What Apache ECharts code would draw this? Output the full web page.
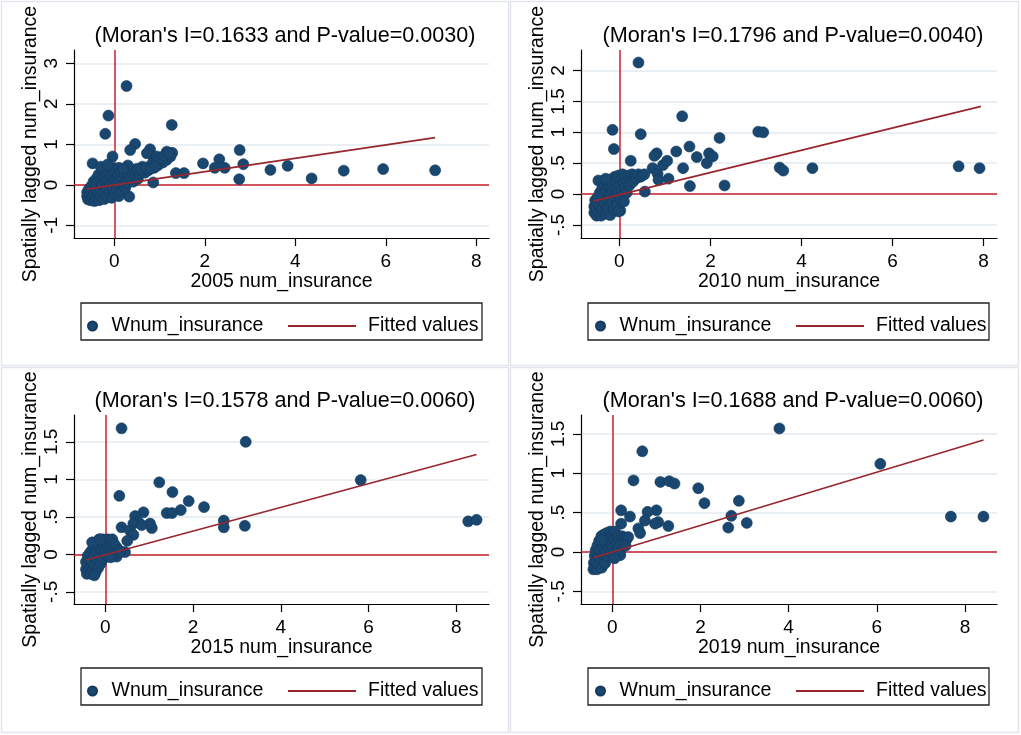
<!DOCTYPE html>
<html>
<head>
<meta charset="utf-8">
<title>Moran scatter plots of num_insurance</title>
<script src="https://cdn.jsdelivr.net/npm/echarts@6/dist/echarts.min.js"></script>
<style>
  html, body { margin: 0; padding: 0; background: #fff; }
  #main { width: 1021px; height: 735px; }
</style>
</head>
<body>
<div id="main"></div>
<script>
const years = ['2005', '2010', '2015', '2019'];
const moranI = ['0.1633', '0.1796', '0.1578', '0.1688'];
const pValues = ['0.0030', '0.0040', '0.0060', '0.0060'];

// [num_insurance, spatially lagged num_insurance]
const pts2005 = [
  [0.27, 2.44], [-0.13, 1.71], [-0.2, 1.26], [1.27, 1.48], [0.46, 1.01], [0.35, 0.86], [0.79, 0.88],
  [0.86, 0.70], [-0.04, 0.70], [-0.48, 0.53], [1.28, 0.79], [1.24, 0.70], [1.16, 0.62], [1.07, 0.55],
  [0.96, 0.48], [1.36, 0.29], [1.54, 0.29], [1.96, 0.53], [2.32, 0.63], [2.22, 0.42], [2.44, 0.42],
  [2.77, 0.86], [2.85, 0.51], [2.76, 0.14], [3.45, 0.37], [3.83, 0.47], [4.36, 0.16], [5.07, 0.35],
  [5.94, 0.39], [7.09, 0.36], [0.86, 0.06], [0.33, -0.29], [0.72, 0.78], [0.94, 0.70], [1.16, 0.82],
  [-0.6, -0.28], [-0.6, -0.18], [-0.58, -0.36], [-0.56, -0.1], [-0.54, -0.25], [-0.52, -0.38],
  [-0.5, -0.15], [-0.5, -0.02], [-0.48, -0.3], [-0.46, 0.08], [-0.45, -0.2], [-0.44, -0.4],
  [-0.42, -0.08], [-0.4, 0.15], [-0.4, -0.3], [-0.38, 0.02], [-0.36, -0.18], [-0.35, 0.25],
  [-0.34, -0.38], [-0.32, 0.1], [-0.3, -0.1], [-0.3, -0.28], [-0.28, 0.32], [-0.27, 0.0],
  [-0.25, 0.18], [-0.24, -0.2], [-0.22, -0.35], [-0.2, 0.08], [-0.2, 0.4], [-0.18, -0.08],
  [-0.17, 0.26], [-0.15, -0.28], [-0.14, 0.12], [-0.12, 0.35], [-0.1, -0.15], [-0.1, 0.02],
  [-0.08, 0.2], [-0.06, -0.32], [-0.05, 0.42], [-0.04, 0.08], [-0.02, -0.05], [0.0, 0.28],
  [0.0, -0.22], [0.02, 0.14], [0.04, 0.36], [0.05, -0.1], [0.07, 0.02], [0.08, 0.22], [0.1, 0.42],
  [0.1, -0.28], [0.12, 0.1], [0.14, 0.3], [0.15, -0.15], [0.17, 0.18], [0.2, 0.0], [0.2, 0.38],
  [0.22, 0.25], [0.24, -0.08], [0.26, 0.12], [0.28, 0.32], [0.3, 0.05], [0.32, 0.22], [0.34, 0.4],
  [0.36, 0.15], [0.4, 0.3], [0.42, 0.08], [0.45, 0.22], [0.48, 0.35], [0.52, 0.15], [0.56, 0.28],
  [0.62, 0.45], [0.68, 0.3], [0.75, 0.36], [0.82, 0.5], [0.88, 0.42], [0.95, 0.6], [1.02, 0.66],
  [1.1, 0.72], [1.2, 0.78], [-0.3, 0.45], [-0.15, 0.5], [0.5, 0.4], [0.6, 0.38], [0.7, 0.42],
  [0.8, 0.4], [0.9, 0.45], [0.3, 0.48], [0.2, 0.4]
];
const pts2010 = [
  [0.42, 2.13], [1.38, 1.26], [-0.15, 1.04], [0.47, 0.97], [-0.12, 0.73], [3.05, 1.01], [3.16, 1.0],
  [2.2, 0.91], [1.54, 0.77], [1.25, 0.69], [0.82, 0.66], [0.77, 0.62], [1.7, 0.6], [1.97, 0.66],
  [2.05, 0.61], [1.92, 0.5], [0.25, 0.54], [0.73, 0.42], [0.84, 0.33], [0.86, 0.23], [0.96, 0.47],
  [1.05, 0.54], [1.08, 0.25], [1.4, 0.42], [1.55, 0.13], [2.31, 0.14], [3.52, 0.43], [3.6, 0.38],
  [4.24, 0.42], [7.45, 0.45], [7.91, 0.42], [0.56, 0.04], [-0.46, 0.22], [0.02, -0.27],
  [-0.55, -0.3], [-0.55, -0.2], [-0.53, -0.1], [-0.5, -0.35], [-0.5, -0.25], [-0.48, -0.15],
  [-0.47, -0.05], [-0.45, -0.3], [-0.43, 0.02], [-0.42, -0.2], [-0.4, -0.35], [-0.4, -0.1],
  [-0.38, 0.08], [-0.36, -0.25], [-0.35, -0.02], [-0.33, 0.14], [-0.32, -0.15], [-0.3, -0.32],
  [-0.28, 0.05], [-0.27, 0.2], [-0.26, -0.08], [-0.24, -0.22], [-0.22, 0.12], [-0.2, 0.0],
  [-0.2, -0.34], [-0.18, 0.24], [-0.17, -0.14], [-0.15, 0.06], [-0.14, 0.16], [-0.12, -0.24],
  [-0.1, 0.28], [-0.1, -0.04], [-0.08, 0.1], [-0.06, 0.2], [-0.05, -0.16], [-0.03, 0.02],
  [-0.02, 0.3], [0.0, 0.14], [0.02, -0.08], [0.04, 0.24], [0.05, 0.06], [0.07, 0.32], [0.08, -0.02],
  [0.1, 0.18], [0.12, 0.1], [0.14, 0.28], [0.16, 0.02], [0.18, 0.22], [0.2, 0.3], [0.22, 0.14],
  [0.25, 0.26], [0.28, 0.32], [0.3, 0.2], [0.34, 0.3], [0.38, 0.26], [0.42, 0.32], [0.46, 0.28],
  [0.5, 0.3], [0.55, 0.32], [0.1, -0.12], [-0.3, 0.25], [-0.02, -0.28]
];
const pts2015 = [
  [0.37, 1.68], [3.2, 1.5], [5.82, 0.99], [1.23, 0.96], [1.53, 0.83], [0.32, 0.78], [1.9, 0.71],
  [2.25, 0.63], [1.72, 0.59], [1.4, 0.55], [1.52, 0.55], [0.87, 0.56], [0.68, 0.51], [2.7, 0.45],
  [2.7, 0.36], [3.18, 0.38], [8.27, 0.44], [8.46, 0.46], [1.06, 0.35], [1.02, 0.41], [0.37, 0.36],
  [0.75, 0.43], [0.64, 0.41], [0.83, 0.39], [0.56, 0.32], [0.64, 0.26], [0.5, 0.18], [0.26, -0.03],
  [0.45, 0.03],
  [-0.44, -0.2], [-0.44, -0.1], [-0.42, -0.26], [-0.4, -0.02], [-0.4, -0.15], [-0.38, -0.22],
  [-0.36, -0.08], [-0.35, 0.02], [-0.34, -0.18], [-0.32, -0.26], [-0.3, -0.1], [-0.3, 0.06],
  [-0.28, -0.2], [-0.26, -0.02], [-0.25, 0.1], [-0.24, -0.14], [-0.22, -0.24], [-0.2, 0.04],
  [-0.2, 0.16], [-0.18, -0.08], [-0.16, -0.18], [-0.15, 0.1], [-0.14, 0.2], [-0.12, -0.02],
  [-0.1, -0.12], [-0.1, 0.14], [-0.08, 0.06], [-0.06, 0.2], [-0.05, -0.06], [-0.03, 0.12],
  [-0.02, 0.02], [0.0, 0.18], [0.02, 0.08], [0.04, -0.02], [0.05, 0.2], [0.07, 0.12], [0.1, 0.04],
  [0.12, 0.16], [0.14, 0.1], [0.16, 0.2], [0.18, 0.06], [0.2, 0.14], [0.22, 0.02], [0.25, 0.1],
  [0.3, 0.06], [0.34, 0.04], [0.12, -0.04], [-0.25, -0.28], [-0.3, 0.16], [-0.12, 0.2]
];
const pts2019 = [
  [3.79, 1.57], [0.68, 1.28], [6.08, 1.12], [0.48, 0.91], [1.09, 0.89], [1.29, 0.9], [1.41, 0.87],
  [1.95, 0.81], [2.09, 0.62], [2.87, 0.65], [2.7, 0.46], [2.63, 0.31], [3.05, 0.37], [7.68, 0.45],
  [8.42, 0.45], [0.2, 0.53], [0.4, 0.45], [1.0, 0.53], [1.04, 0.38], [0.97, 0.36], [1.27, 0.33],
  [0.8, 0.51], [0.74, 0.4], [0.59, 0.3], [0.63, 0.24], [0.2, 0.36], [0.17, -0.02],
  [-0.43, -0.22], [-0.42, -0.14], [-0.4, -0.05], [-0.4, -0.2], [-0.38, 0.02], [-0.37, -0.12],
  [-0.35, -0.22], [-0.34, 0.08], [-0.32, -0.06], [-0.3, -0.16], [-0.3, 0.14], [-0.28, 0.02],
  [-0.26, -0.1], [-0.25, 0.2], [-0.24, -0.2], [-0.22, 0.08], [-0.2, -0.04], [-0.2, 0.22],
  [-0.18, 0.14], [-0.16, -0.14], [-0.15, 0.02], [-0.13, 0.24], [-0.12, 0.1], [-0.1, -0.06],
  [-0.08, 0.18], [-0.06, 0.04], [-0.05, 0.26], [-0.03, -0.02], [-0.02, 0.12], [0.0, 0.22],
  [0.02, 0.06], [0.04, 0.16], [0.06, 0.26], [0.08, 0.0], [0.1, 0.12], [0.12, 0.2], [0.14, 0.06],
  [0.16, 0.16], [0.18, -0.04], [0.2, 0.1], [0.22, 0.2], [0.25, 0.14], [0.28, 0.18], [0.32, 0.16],
  [0.36, 0.19], [0.3, 0.08], [-0.25, 0.15], [0.05, -0.08]
];

// fitted regression line, end points
const fit2005 = [[-0.61, -0.106], [7.09, 1.165]];
const fit2010 = [[-0.57, -0.114], [7.94, 1.42]];
const fit2015 = [[-0.44, -0.076], [8.46, 1.332]];
const fit2019 = [[-0.43, -0.072], [8.42, 1.424]];

const xTicks = [0, 2, 4, 6, 8];
const yTicks2005 = [-1, 0, 1, 2, 3];
const yTicks2010 = [-0.5, 0, 0.5, 1, 1.5, 2];
const yTicks2015 = [-0.5, 0, 0.5, 1, 1.5];
const yTicks2019 = [-0.5, 0, 0.5, 1, 1.5];

const points = [pts2005, pts2010, pts2015, pts2019];
const fits = [fit2005, fit2010, fit2015, fit2019];
const yTicks = [yTicks2005, yTicks2010, yTicks2015, yTicks2019];

// panel layout (pixels) and axis ranges
const panels = [
  { left: 74, top: 50, width: 415, height: 188, xMin: -0.891, xMax: 8.28, yMin: -1.311, yMax: 3.328, titleX: 285, titleY: 25, boxX: 81, boxY: 303, dotX: 82, lineX: 283 },
  { left: 581, top: 50, width: 416, height: 188, xMin: -0.842, xMax: 8.293, yMin: -0.711, yMax: 2.333, titleX: 793, titleY: 25, boxX: 588, boxY: 303, dotX: 590, lineX: 791 },
  { left: 74, top: 415, width: 415, height: 189, xMin: -0.713, xMax: 8.743, yMin: -0.662, yMax: 1.858, titleX: 285, titleY: 390, boxX: 81, boxY: 668, dotX: 82, lineX: 283 },
  { left: 581, top: 415, width: 416, height: 189, xMin: -0.711, xMax: 8.727, yMin: -0.661, yMax: 1.741, titleX: 793, titleY: 390, boxX: 588, boxY: 668, dotX: 590, lineX: 791 }
];

const FONT = 'Liberation Sans, Arial, sans-serif';
const navy = '#1a476f';
const refRed = '#c8212e';
const fitRed = '#98262e';

function tickText(v) {
  return String(v).replace(/^(-?)0\./, '$1.');
}

const chart = echarts.init(document.getElementById('main'), null, { renderer: 'canvas' });

const option = {
  backgroundColor: '#fff',
  animation: false,
  title: panels.map((p, i) => ({
    text: "(Moran's I=" + moranI[i] + ' and P-value=' + pValues[i] + ')',
    left: p.titleX,
    top: p.titleY,
    textAlign: 'center',
    padding: 0,
    textStyle: { fontFamily: FONT, fontSize: 21.6, fontWeight: 'normal', color: '#000' }
  })),
  grid: panels.map(p => ({ left: p.left, top: p.top, width: p.width, height: p.height })),
  xAxis: panels.map((p, i) => ({
    type: 'value',
    gridIndex: i,
    min: p.xMin,
    max: p.xMax,
    name: years[i] + ' num_insurance',
    nameLocation: 'middle',
    nameGap: 34,
    nameTextStyle: { fontFamily: FONT, fontSize: 19.5, color: '#000' },
    axisLine: { show: true, onZero: false, lineStyle: { color: '#000', width: 1.2 } },
    axisTick: { show: true, customValues: xTicks, length: 8, lineStyle: { color: '#000', width: 1.2 } },
    axisLabel: { customValues: xTicks, margin: 14, fontFamily: FONT, fontSize: 19, color: '#000', formatter: tickText },
    splitLine: { show: false }
  })),
  yAxis: panels.map((p, i) => ({
    type: 'value',
    gridIndex: i,
    min: p.yMin,
    max: p.yMax,
    name: 'Spatially lagged num_insurance',
    nameLocation: 'middle',
    nameGap: 28,
    nameTextStyle: { fontFamily: FONT, fontSize: 19.5, color: '#000' },
    axisLine: { show: true, onZero: false, lineStyle: { color: '#000', width: 1.2 } },
    axisTick: { show: true, customValues: yTicks[i], length: 8, lineStyle: { color: '#000', width: 1.2 } },
    axisLabel: { customValues: yTicks[i], rotate: 90, margin: 13, fontFamily: FONT, fontSize: 19, color: '#000', formatter: tickText },
    splitLine: { show: true, lineStyle: { color: '#e2eaee', width: 1.5 } }
  })),
  legend: [].concat(...panels.map(p => [{
    data: ['Wnum_insurance'],
    left: p.dotX,
    top: p.boxY + 8,
    itemWidth: 24,
    itemHeight: 9,
    selectedMode: false,
    textStyle: { fontFamily: FONT, fontSize: 19.5, color: '#000', padding: [0, 0, 0, 2] }
  }, {
    data: [{ name: 'Fitted values', icon: 'rect' }],
    left: p.lineX,
    top: p.boxY + 8,
    itemWidth: 68,
    itemHeight: 2,
    selectedMode: false,
    itemStyle: { color: fitRed },
    textStyle: { fontFamily: FONT, fontSize: 19.5, color: '#000', padding: [0, 0, 0, 7] }
  }])),
  graphic: [
    // panel frames
    { type: 'rect', shape: { x: 1.5, y: 1.5, width: 507, height: 364 }, style: { fill: 'none', stroke: '#e2e6ec', lineWidth: 1.5 }, silent: true },
    { type: 'rect', shape: { x: 510.5, y: 1.5, width: 508, height: 364 }, style: { fill: 'none', stroke: '#e2e6ec', lineWidth: 1.5 }, silent: true },
    { type: 'rect', shape: { x: 1.5, y: 367.5, width: 507, height: 365 }, style: { fill: 'none', stroke: '#e2e6ec', lineWidth: 1.5 }, silent: true },
    { type: 'rect', shape: { x: 510.5, y: 367.5, width: 508, height: 365 }, style: { fill: 'none', stroke: '#e2e6ec', lineWidth: 1.5 }, silent: true }
  ].concat(panels.map(p => ({
    // legend box
    type: 'rect',
    shape: { x: p.boxX, y: p.boxY, width: 401, height: 37 },
    style: { fill: 'none', stroke: '#222', lineWidth: 1.3 },
    silent: true
  }))),
  series: [].concat(...panels.map((p, i) => [{
    type: 'scatter',
    name: 'Wnum_insurance',
    xAxisIndex: i,
    yAxisIndex: i,
    data: points[i],
    symbol: 'circle',
    symbolSize: 11,
    z: 2,
    itemStyle: { color: navy, borderColor: '#133a5e', borderWidth: 0.6, opacity: 1 },
    emphasis: { disabled: true },
    markLine: {
      silent: true,
      symbol: 'none',
      z: 1,
      label: { show: false },
      lineStyle: { color: refRed, width: 1.5, type: 'solid' },
      data: [{ xAxis: 0 }, { yAxis: 0 }]
    }
  }, {
    type: 'line',
    name: 'Fitted values',
    xAxisIndex: i,
    yAxisIndex: i,
    data: fits[i],
    symbol: 'none',
    z: 3,
    lineStyle: { color: fitRed, width: 1.6 },
    itemStyle: { color: fitRed },
    emphasis: { disabled: true }
  }]))
};

chart.setOption(option);
</script>
</body>
</html>
